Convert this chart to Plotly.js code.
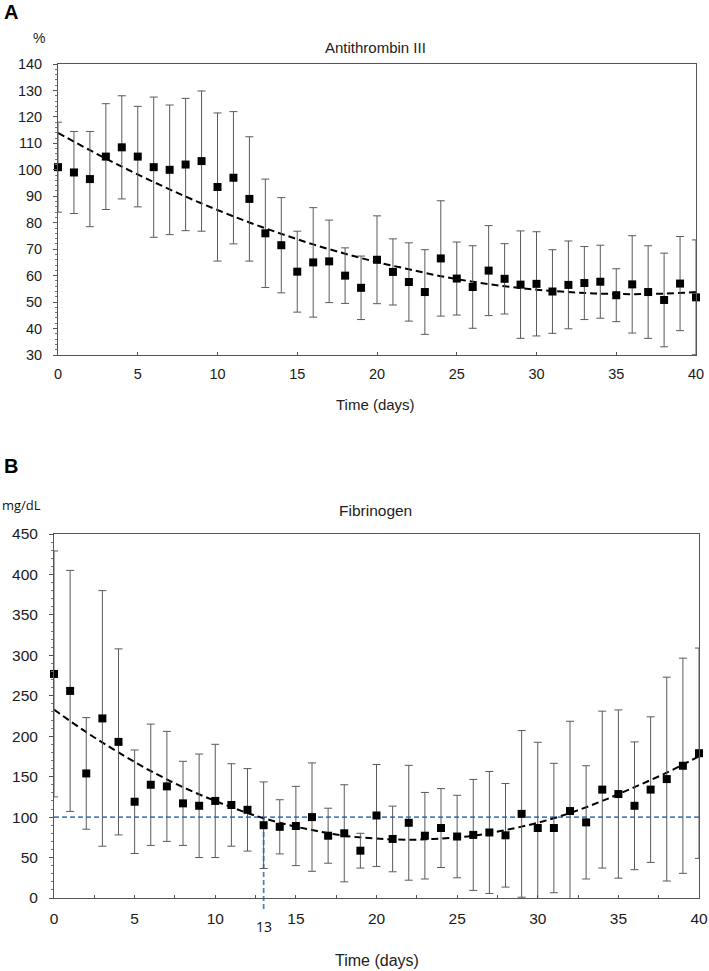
<!DOCTYPE html>
<html>
<head>
<meta charset="utf-8">
<script src="https://cdn.plot.ly/plotly-3.0.1.min.js"></script>
<style>
  body { margin: 0; background: #fff; }
  #chart { width: 709px; height: 971px; }
</style>
</head>
<body>
<div id="chart"></div>
<script>
// data (mean +/- SD per day, plus the fitted trend)
const DAYS = [0, 1, 2, 3, 4, 5, 6, 7, 8, 9, 10, 11, 12, 13, 14, 15, 16, 17, 18, 19, 20,
  21, 22, 23, 24, 25, 26, 27, 28, 29, 30, 31, 32, 33, 34, 35, 36, 37, 38, 39, 40];

const AT3_MEAN = [101, 99, 96.5, 105, 108.5, 105, 101, 100, 102, 103.3, 93.5, 97, 89, 76, 71.5,
  61.5, 65, 65.4, 60, 55.4, 66, 61.4, 57.6, 53.8, 66.5, 58.9, 55.7, 61.9, 58.8, 56.6, 56.9,
  54, 56.5, 57.2, 57.7, 52.6, 56.7, 53.8, 50.8, 57, 51.8];
const AT3_SD = [17, 15.5, 18, 20, 19.5, 19, 26.5, 24.5, 25, 26.5, 28, 25, 23.5, 20.5, 18,
  15.3, 20.7, 15.6, 10.5, 12, 16.6, 12.5, 14.8, 16, 21.8, 13.8, 15.6, 17, 13.3, 20.3, 19.7,
  15.8, 16.6, 13.8, 13.8, 10, 18.4, 17.5, 17.7, 17.8, 21.7];

const FIB_MEAN = [277, 256, 154, 222, 193, 119, 140, 138, 117, 114, 120, 115, 109, 90, 88,
  89, 100, 77, 80, 58.5, 102, 73, 93, 77, 86.5, 76, 78, 81, 77.5, 104, 86.5, 86.5, 107.5,
  93.5, 134, 128.5, 114, 134, 147, 163.5, 179];
const FIB_SD = [152, 149, 69, 158, 115, 64, 75, 68, 52, 64, 70, 51, 51, 53.5, 33.5, 49, 67,
  34, 60, 21.5, 63, 40.6, 71, 53.5, 48.8, 51, 68.6, 75.4, 64, 103, 106, 80, 111, 70, 97,
  104, 79, 90, 126, 133, 130];

const TREND_DAYS = [0, 2, 4, 6, 8, 10, 12, 14, 16, 18, 20, 22, 24, 26, 28, 30, 32, 34, 36, 38, 40];
const AT3_TREND = [114, 107.4, 101.2, 95.4, 89.9, 84.8, 80.1, 75.8, 71.8, 68.3, 65.1, 62.4,
  59.8, 57.7, 56.0, 54.7, 53.8, 53.2, 53.0, 53.2, 53.8];
const FIB_TREND = [233, 205, 180, 157, 137, 120, 105, 93, 84, 77, 73.5, 72, 73.5, 77, 84,
  93, 105, 120, 137, 155, 175];

const FIB_REF_LEVEL = 100;
const FIB_REF_DAY = 13;

const FONT = "Liberation Sans, Arial, sans-serif";
const W = 709, H = 971;

// panel boxes, in pixels of the page
const BOX_A = { l: 58, r: 696, t: 64, b: 355 };
const BOX_B = { l: 54, r: 699, t: 534, b: 898 };
const RANGE_A = [30, 140];
const RANGE_B = [0, 450];

const px = x => x / W;
const py = y => 1 - y / H;

const domB = [py(BOX_B.b), py(BOX_B.t)];
const fibY = v => domB[0] + (v - RANGE_B[0]) / (RANGE_B[1] - RANGE_B[0]) * (domB[1] - domB[0]);

function meanTrace(mean, sd, xa, ya) {
  return {
    x: DAYS, y: mean, xaxis: xa, yaxis: ya,
    type: "scatter", mode: "markers", showlegend: false, cliponaxis: false,
    marker: { symbol: "square", size: 8, color: "#000" },
    error_y: { type: "data", array: sd, visible: true, color: "#5a5a5a", thickness: 1, width: 4 },
  };
}

function trendTrace(y, xa, ya) {
  return {
    x: TREND_DAYS, y: y, xaxis: xa, yaxis: ya,
    type: "scatter", mode: "lines", showlegend: false, hoverinfo: "skip",
    line: { color: "#000", width: 2, dash: "7px,4px", shape: "spline" },
  };
}

const traces = [
  trendTrace(AT3_TREND, "x", "y"),
  meanTrace(AT3_MEAN, AT3_SD, "x", "y"),
  trendTrace(FIB_TREND, "x2", "y2"),
  meanTrace(FIB_MEAN, FIB_SD, "x2", "y2"),
];

const axisBase = {
  showline: true, linecolor: "#555", linewidth: 1, mirror: true,
  showgrid: false, zeroline: false,
  ticks: "outside", ticklen: 4, tickcolor: "#555",
  tickfont: { family: FONT, size: 14.5, color: "#1a1a1a" },
};

const layout = {
  width: W, height: H,
  margin: { l: 0, r: 0, t: 0, b: 0 },
  paper_bgcolor: "#fff", plot_bgcolor: "#fff",
  font: { family: FONT, color: "#222" },
  xaxis: {
    ...axisBase, domain: [px(BOX_A.l), px(BOX_A.r)], range: [0, 40], dtick: 5,
    ticks: "inside", ticklen: 3, ticklabelstandoff: 6, anchor: "y",
  },
  yaxis: {
    ...axisBase, domain: [py(BOX_A.b), py(BOX_A.t)], range: RANGE_A, dtick: 10,
    ticklabelstandoff: 8, anchor: "x",
    minor: { dtick: 2, ticks: "outside", ticklen: 2, tickcolor: "#777" },
  },
  xaxis2: {
    ...axisBase, domain: [px(BOX_B.l), px(BOX_B.r)], range: [0, 40], dtick: 5,
    ticks: "inside", ticklen: 3, ticklabelstandoff: 6, anchor: "y2",
    tickfont: { family: FONT, size: 15.5, color: "#1a1a1a" },
    minor: { dtick: 2.5, ticks: "inside", ticklen: 3, tickcolor: "#555" },
  },
  yaxis2: {
    ...axisBase, domain: domB, range: RANGE_B, dtick: 50,
    ticklabelstandoff: 8, anchor: "x2",
    tickfont: { family: FONT, size: 15.5, color: "#1a1a1a" },
    minor: { dtick: 10, ticks: "outside", ticklen: 2, tickcolor: "#777" },
  },
  shapes: [
    {
      type: "line", xref: "x2", yref: "y2", layer: "below",
      x0: 0, x1: 40, y0: FIB_REF_LEVEL, y1: FIB_REF_LEVEL,
      line: { color: "#4f81bd", width: 1.8, dash: "5px,3px" },
    },
    {
      type: "line", xref: "x2", yref: "paper", layer: "below",
      x0: FIB_REF_DAY, x1: FIB_REF_DAY, y0: fibY(RANGE_B[0]) - 11 / H, y1: fibY(FIB_REF_LEVEL),
      line: { color: "#4f81bd", width: 1.8, dash: "5px,3px" },
    },
  ],
  annotations: [
    { text: "<b>A</b>", x: px(2), y: py(12), xref: "paper", yref: "paper", xanchor: "left", yanchor: "middle",
      showarrow: false, font: { family: FONT, size: 20, color: "#000" } },
    { text: "%", x: px(39), y: py(38), xref: "paper", yref: "paper", xanchor: "center", yanchor: "middle",
      showarrow: false, font: { family: FONT, size: 14, color: "#222" } },
    { text: "Antithrombin III", x: px(376), y: py(47), xref: "paper", yref: "paper", xanchor: "center", yanchor: "middle",
      showarrow: false, font: { family: FONT, size: 15, color: "#222" } },
    { text: "Time (days)", x: px(376), y: py(405), xref: "paper", yref: "paper", xanchor: "center", yanchor: "middle",
      showarrow: false, font: { family: FONT, size: 15, color: "#222" } },
    { text: "<b>B</b>", x: px(2), y: py(466), xref: "paper", yref: "paper", xanchor: "left", yanchor: "middle",
      showarrow: false, font: { family: FONT, size: 20, color: "#000" } },
    { text: "mg/dL", x: px(0), y: py(505), xref: "paper", yref: "paper", xanchor: "left", yanchor: "middle",
      showarrow: false, font: { family: "Open Sans, sans-serif", size: 13, color: "#111" } },
    { text: "Fibrinogen", x: px(376), y: py(510), xref: "paper", yref: "paper", xanchor: "center", yanchor: "middle",
      showarrow: false, font: { family: FONT, size: 15.5, color: "#222" } },
    { text: "Time (days)", x: px(377), y: py(960), xref: "paper", yref: "paper", xanchor: "center", yanchor: "middle",
      showarrow: false, font: { family: FONT, size: 16, color: "#222" } },
    { text: String(FIB_REF_DAY), x: FIB_REF_DAY, y: py(926), xref: "x2", yref: "paper", xanchor: "center", yanchor: "middle",
      showarrow: false, font: { family: "Open Sans, sans-serif", size: 14, color: "#111" } },
  ],
};

Plotly.newPlot("chart", traces, layout, { displayModeBar: false, responsive: false });
</script>
</body>
</html>
